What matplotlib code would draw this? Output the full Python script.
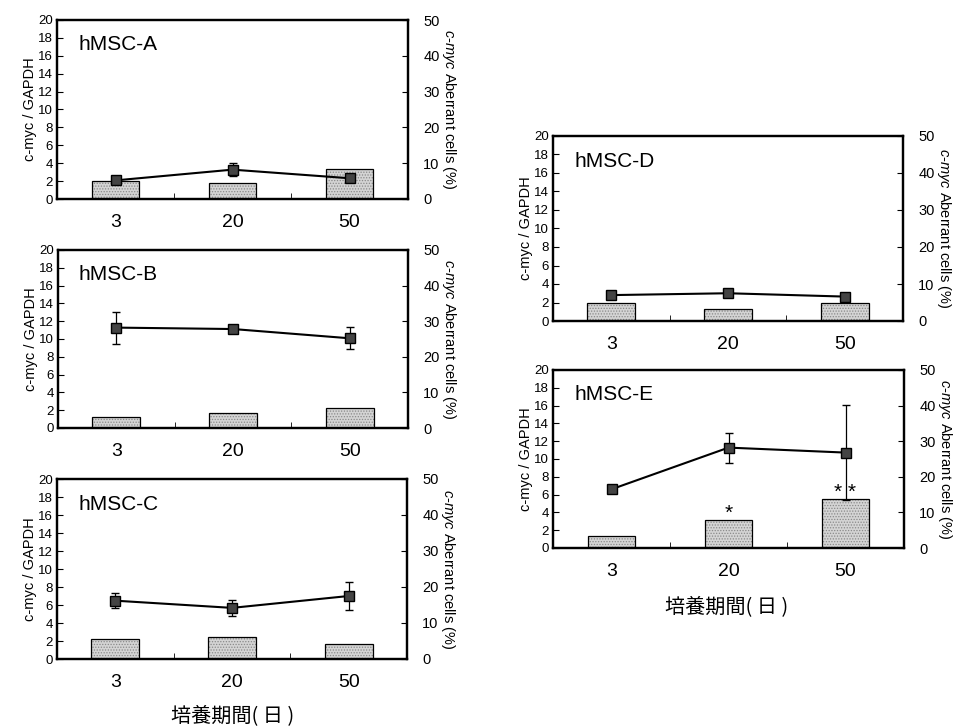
import numpy as np
import matplotlib.pyplot as plt

plt.rcParams['font.family'] = ['Liberation Sans', 'DejaVu Sans']
plt.rcParams['mathtext.fontset'] = 'custom'
plt.rcParams['mathtext.rm'] = 'Liberation Sans'
plt.rcParams['mathtext.it'] = 'Liberation Sans:italic'
plt.rcParams['hatch.linewidth'] = 0.6

days = ["3", "20", "50"]
panels = ["hMSC-A", "hMSC-B", "hMSC-C", "hMSC-D", "hMSC-E"]

# bars: c-myc / GAPDH (left axis)
ratio_A = [2.0, 1.8, 3.4]
ratio_B = [1.2, 1.7, 2.2]
ratio_C = [2.2, 2.4, 1.7]
ratio_D = [2.0, 1.3, 2.0]
ratio_E = [1.4, 3.1, 5.5]

# line: c-myc aberrant cells (%) (right axis)
aber_A = [5.2, 8.2, 5.8]
aber_B = [28.2, 27.8, 25.2]
aber_C = [16.2, 14.2, 17.5]
aber_D = [7.0, 7.5, 6.6]
aber_E = [16.5, 28.2, 26.8]

err_A = [1.0, 1.8, 0.8]
err_B = [4.5, 0.8, 3.1]
err_C = [2.1, 2.2, 4.0]
err_D = [0.5, 0.5, 0.5]
err_E = [0.5, 4.2, 13.3]

stars_E = ["", "*", "* *"]

ratios = [ratio_A, ratio_B, ratio_C, ratio_D, ratio_E]
abers = [aber_A, aber_B, aber_C, aber_D, aber_E]
errs = [err_A, err_B, err_C, err_D, err_E]

W, H = 957, 726
# axes boxes in pixels: left, top, right, bottom
boxes = [(57, 20, 408, 199),
         (58, 250, 408, 428),
         (57, 479, 407, 659),
         (553, 136, 903, 321),
         (553, 370, 904, 548)]

fig = plt.figure(figsize=(W / 100, H / 100), dpi=100)
x = np.arange(len(days))

for i, name in enumerate(panels):
    l, t, r, b = boxes[i]
    ax = fig.add_axes([l / W, 1 - b / H, (r - l) / W, (b - t) / H])
    # stippled fill, then black outline
    ax.bar(x, ratios[i], width=0.41, color="#d4d4d4", edgecolor="#8a8a8a",
           linewidth=0, hatch="......", zorder=2)
    ax.bar(x, ratios[i], width=0.41, fill=False, edgecolor="black",
           linewidth=0.9, zorder=2)
    ax.set_xlim(-0.5, 2.5)
    ax.set_ylim(0, 20)
    ax.set_yticks(np.arange(0, 21, 2))
    ax.set_xticks(x)
    ax.set_xticklabels(days, fontsize=14)
    ax.set_xticks([0.5, 1.5], minor=True)
    ax.tick_params(axis="x", which="major", length=0, pad=11)
    ax.tick_params(axis="x", which="minor", direction="in", length=4)
    ax.tick_params(axis="y", direction="in", length=4, labelsize=9.5, pad=3)
    ax.set_ylabel("c-myc / GAPDH", fontsize=10.5, labelpad=1)
    for sp in ax.spines.values():
        sp.set_linewidth(1.6)
    ax.text(0.06, 0.83, name, transform=ax.transAxes, fontsize=15)

    ax2 = ax.twinx()
    ax2.errorbar(x, abers[i], yerr=errs[i], color="black", linewidth=1.5,
                 marker="s", markersize=6.5, markerfacecolor="#444444",
                 markeredgecolor="black", capsize=3, elinewidth=0.9, zorder=3)
    ax2.set_ylim(0, 50)
    ax2.set_yticks(np.arange(0, 51, 10))
    ax2.tick_params(axis="y", direction="in", length=4, labelsize=10.5, pad=11)
    ax2.set_ylabel("$\\mathit{c}$-$\\mathit{myc}$ Aberrant cells (%)",
                   fontsize=10.5, rotation=270, labelpad=13)
    for sp in ax2.spines.values():
        sp.set_linewidth(1.6)

    if name == "hMSC-E":
        for xi, s in zip(x, stars_E):
            if s:
                ax.text(xi, ratios[i][xi] - 0.3, s, ha="center", va="bottom",
                        fontsize=15)

cjk = ['Noto Sans CJK JP', 'DejaVu Sans']
label = "培養期間( 日 )"
fig.text(233 / W, 1 - 716 / H, label, ha="center", va="center",
         fontsize=14.5, family=cjk)
fig.text(727 / W, 1 - 607 / H, label, ha="center", va="center",
         fontsize=14.5, family=cjk)

fig.savefig("out.png", dpi=100)
